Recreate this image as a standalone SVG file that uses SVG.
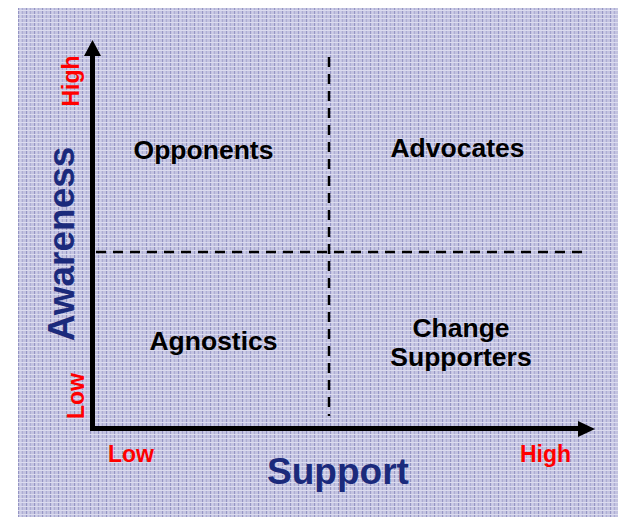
<svg xmlns="http://www.w3.org/2000/svg" width="618" height="517" viewBox="0 0 618 517">
  <defs>
    <pattern id="plaid" x="18" y="8" width="8" height="8" patternUnits="userSpaceOnUse">
      <rect width="8" height="8" fill="#c3c3e0"/>
      <rect x="0" y="0" width="1" height="8" fill="#9595c4"/>
      <rect x="4" y="0" width="1" height="8" fill="#adadd4"/>
      <rect x="0" y="2" width="8" height="1" fill="#dcdcef"/>
      <rect x="0" y="6" width="8" height="1" fill="#dcdcef"/>
      <rect x="2" y="0" width="1" height="8" fill="#d6d6ec" opacity="0.6"/>
    </pattern>
  </defs>
  <style>
    .quad { font-family: "Liberation Sans", Arial, sans-serif; font-weight: bold; font-size: 26.5px; fill: #000; text-anchor: middle; }
    .axis { font-family: "Liberation Sans", Arial, sans-serif; font-weight: bold; font-size: 37px; fill: #1b2a7b; text-anchor: middle; }
    .lvl { font-family: "Liberation Sans", Arial, sans-serif; font-weight: bold; font-size: 23px; fill: #ff0000; text-anchor: middle; }
    .dash { stroke: #000; stroke-width: 2.5; stroke-dasharray: 10 7; fill: none; }
    .ax { stroke: #000; stroke-width: 5; fill: none; }
  </style>
  <rect x="18" y="8" width="600" height="509" fill="url(#plaid)"/>
  <g id="connectors">
    <line class="dash" x1="96" y1="252" x2="588" y2="252"/>
    <line class="dash" x1="329" y1="57" x2="329" y2="416"/>
    <polyline class="ax" points="92.5,428.5 92.5,56"/>
    <polygon points="92.5,40 84,56 101,56" fill="#000"/>
    <polyline class="ax" points="90,428.5 579,428.5"/>
    <polygon points="595,429 578,421 578,437" fill="#000"/>
  </g>
  <g id="opponents"><text class="quad" x="203.5" y="159">Opponents</text></g>
  <g id="advocates"><text class="quad" x="457.5" y="157">Advocates</text></g>
  <g id="agnostics"><text class="quad" x="213.5" y="350">Agnostics</text></g>
  <g id="change-supporters">
    <text class="quad" x="461" y="337">Change</text>
    <text class="quad" x="461" y="366">Supporters</text>
  </g>
  <g id="axis-support"><text class="axis" x="338" y="484">Support</text></g>
  <g id="axis-awareness"><text class="axis" transform="translate(74,244) rotate(-90)">Awareness</text></g>
  <g id="y-high"><text class="lvl" transform="translate(79,81) rotate(-90)">High</text></g>
  <g id="y-low"><text class="lvl" transform="translate(84,396) rotate(-90)">Low</text></g>
  <g id="x-low"><text class="lvl" x="131" y="462">Low</text></g>
  <g id="x-high"><text class="lvl" x="545.5" y="462">High</text></g>
</svg>
